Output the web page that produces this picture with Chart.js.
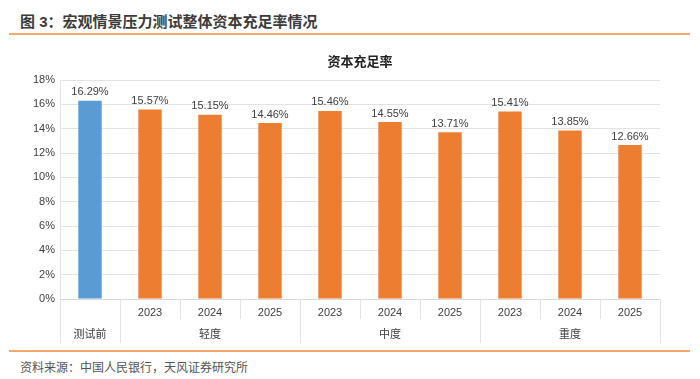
<!DOCTYPE html>
<html>
<head>
<meta charset="utf-8">
<script src="https://cdn.jsdelivr.net/npm/chart.js@4"></script>
<style>
  body { margin: 0; background: #fff; width: 700px; height: 379px; position: relative; overflow: hidden;
         font-family: "Liberation Sans", "Noto Sans CJK SC", sans-serif; }
  #title { position: absolute; left: 20px; top: 10px; font-size: 15px; font-weight: bold; color: #3b3b3b; }
  #topLine { position: absolute; left: 9px; width: 681px; top: 33px; height: 2px; background: #f6a96b; }
  #bottomLine { position: absolute; left: 9px; width: 681px; top: 350px; height: 2px; background: #f6a96b; }
  #source { position: absolute; left: 20px; top: 358px; font-size: 12px; color: #555; }
  #wrap { position: absolute; left: 0; top: 43px; width: 700px; height: 306px; }
</style>
</head>
<body>
<div id="title">图 3：宏观情景压力测试整体资本充足率情况</div>
<div id="topLine"></div>
<div id="wrap"><canvas id="chart"></canvas></div>
<div id="bottomLine"></div>
<div id="source">资料来源：中国人民银行，天风证券研究所</div>
<script>
  const chartTitle = '资本充足率';
  const yearLabels = ['', '2023', '2024', '2025', '2023', '2024', '2025', '2023', '2024', '2025'];
  const groupNames = ['测试前', '轻度', '中度', '重度'];
  const groupSpans = [1, 3, 3, 3];
  const ratios = [16.29, 15.57, 15.15, 14.46, 15.46, 14.55, 13.71, 15.41, 13.85, 12.66];
  const yTicks = [0, 2, 4, 6, 8, 10, 12, 14, 16, 18];

  const FONT = '"Liberation Sans", "Noto Sans CJK SC", sans-serif';
  const colors = ratios.map((v, i) => i === 0 ? '#5b9bd5' : '#ed7d31');

  // title centred over the plot area (not the whole canvas)
  const plotTitle = {
    id: 'plotTitle',
    afterDraw(chart) {
      const ctx = chart.ctx;
      const a = chart.chartArea;
      ctx.save();
      ctx.font = 'bold 13px ' + FONT;
      ctx.fillStyle = '#222';
      ctx.textAlign = 'center';
      ctx.textBaseline = 'middle';
      ctx.fillText(chartTitle, (a.left + a.right) / 2, 19);
      ctx.restore();
    }
  };

  // value labels above bars
  const valueLabels = {
    id: 'valueLabels',
    afterDatasetsDraw(chart) {
      const ctx = chart.ctx;
      const meta = chart.getDatasetMeta(0);
      ctx.save();
      ctx.font = '11px ' + FONT;
      ctx.fillStyle = '#404040';
      ctx.textAlign = 'center';
      ctx.textBaseline = 'bottom';
      meta.data.forEach((bar, i) => {
        ctx.fillText(ratios[i].toFixed(2) + '%', bar.x, bar.y - 3);
      });
      ctx.restore();
    }
  };

  // two-row category axis: years + scenario groups
  const groupAxis = {
    id: 'groupAxis',
    afterDraw(chart) {
      const ctx = chart.ctx;
      const x = chart.scales.x;
      const bottom = chart.chartArea.bottom;
      const step = x.getPixelForValue(1) - x.getPixelForValue(0);
      ctx.save();
      ctx.strokeStyle = '#e3e3e3';
      ctx.lineWidth = 1;
      let start = 0;
      const edges = [0];
      groupSpans.forEach(s => { start += s; edges.push(start); });
      for (let i = 0; i <= yearLabels.length; i++) {
        const px = Math.round(x.getPixelForValue(0) - step / 2 + i * step) + 0.5;
        const full = edges.includes(i);
        ctx.beginPath();
        ctx.moveTo(px, bottom);
        ctx.lineTo(px, bottom + (full ? 44 : 20));
        ctx.stroke();
      }
      ctx.font = '11px ' + FONT;
      ctx.fillStyle = '#404040';
      ctx.textAlign = 'center';
      ctx.textBaseline = 'middle';
      groupNames.forEach((g, k) => {
        const a = x.getPixelForValue(edges[k]) - step / 2;
        const b = x.getPixelForValue(edges[k + 1] - 1) + step / 2;
        ctx.fillText(g, (a + b) / 2, bottom + 36);
      });
      ctx.restore();
    }
  };

  new Chart(document.getElementById('chart'), {
    type: 'bar',
    data: {
      labels: yearLabels,
      datasets: [{
        label: chartTitle,
        data: ratios,
        backgroundColor: colors,
        borderWidth: 0,
        categoryPercentage: 1,
        barPercentage: 0.39
      }]
    },
    options: {
      responsive: true,
      maintainAspectRatio: false,
      animation: false,
      layout: { padding: { left: 0, right: 40, top: 37, bottom: 6 } },
      plugins: {
        legend: { display: false },
        tooltip: { enabled: false },
        title: { display: false }
      },
      scales: {
        x: {
          grid: { display: false, drawTicks: false },
          border: { color: '#d9d9d9' },
          ticks: { color: '#404040', font: { size: 11, family: FONT }, padding: 7, maxRotation: 0, autoSkip: false },
          afterFit: s => { s.height = 44; }
        },
        y: {
          min: 0,
          max: 18,
          afterBuildTicks: s => { s.ticks = yTicks.map(v => ({ value: v })); },
          ticks: { color: '#404040', font: { size: 11, family: FONT }, padding: 5, callback: v => v + '%' },
          grid: { color: '#e3e3e3', drawTicks: false },
          border: { color: '#e3e3e3' },
          afterFit: s => { s.width = 60; }
        }
      }
    },
    plugins: [plotTitle, valueLabels, groupAxis]
  });
</script>
</body>
</html>
